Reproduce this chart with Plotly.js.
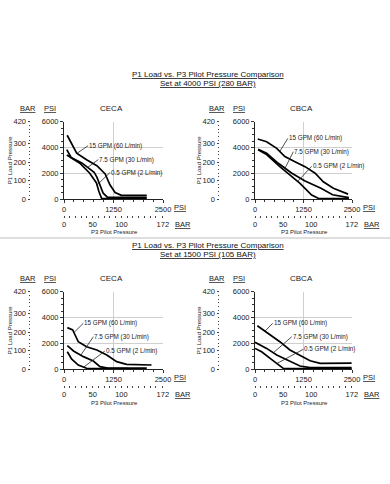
<!DOCTYPE html>
<html>
<head>
<meta charset="utf-8">
<script src="https://cdn.plot.ly/plotly-3.0.1.min.js"></script>
<style>html,body{margin:0;padding:0;background:#fff;}#chart{width:390px;height:484px;}</style>
</head>
<body>
<div id="chart"></div>
<script>
// ---------------- data (PSI) ----------------
const seriesNames = ["15 GPM (60 L/min)", "7.5 GPM (30 L/min)", "0.5 GPM (2 L/min)"];
const sectionTitles = ["P1 Load vs. P3 Pilot Pressure Comparison", "Set at 4000 PSI (280 BAR)", "Set at 1500 PSI (105 BAR)"];
const valveNames = ["CECA", "CBCA"];

// Set at 4000 PSI, CECA
const ceca4000_q15_x = [80, 320, 570, 830, 1040, 1160, 1290, 1450, 2090];
const ceca4000_q15_y = [4950, 3550, 3050, 2580, 1950, 1100, 500, 280, 280];
const ceca4000_q75_x = [70, 180, 450, 760, 830, 910, 990, 1100, 2090];
const ceca4000_q75_y = [3830, 3220, 2800, 2080, 1700, 1100, 450, 130, 120];
const ceca4000_q05_x = [70, 400, 650, 820, 880, 950, 2090];
const ceca4000_q05_y = [3420, 2780, 2000, 1250, 600, 40, 40];

// Set at 4000 PSI, CBCA
const cbca4000_q15_x = [70, 300, 560, 770, 1030, 1290, 1550, 1760, 2020, 2230, 2400];
const cbca4000_q15_y = [4660, 4450, 3930, 3290, 2900, 2510, 2000, 1340, 830, 570, 380];
const cbca4000_q75_x = [80, 300, 600, 950, 1290, 1700, 2000, 2230, 2420];
const cbca4000_q75_y = [3860, 3550, 2770, 2000, 1400, 830, 330, 180, 110];
const cbca4000_q05_x = [80, 300, 640, 1160, 1460, 1630, 2420];
const cbca4000_q05_y = [3830, 3450, 2510, 1220, 310, 60, 40];

// Set at 1500 PSI, CECA
const ceca1500_q15_x = [84, 220, 280, 360, 570, 830, 1080, 1330, 1580, 2210];
const ceca1500_q15_y = [3210, 3030, 2640, 2120, 1730, 1480, 1090, 570, 360, 310];
const ceca1500_q75_x = [84, 240, 490, 740, 910, 1100, 2090];
const ceca1500_q75_y = [1810, 1400, 960, 620, 180, 70, 70];
const ceca1500_q05_x = [84, 190, 360, 570, 700, 1620];
const ceca1500_q05_y = [1340, 780, 310, 60, 40, 40];

// Set at 1500 PSI, CBCA
const cbca1500_q15_x = [60, 340, 640, 900, 1200, 1420, 1680, 1900, 2490];
const cbca1500_q15_y = [3360, 2770, 2120, 1480, 960, 640, 440, 430, 450];
const cbca1500_q75_x = [0, 300, 560, 900, 1160, 1420, 2490];
const cbca1500_q75_y = [2070, 1600, 1090, 570, 230, 100, 100];
const cbca1500_q05_x = [0, 170, 390, 600, 730, 2490];
const cbca1500_q05_y = [1600, 1340, 830, 310, 50, 40];

// label leader tips (data coords on each curve)
const tips = {
  1: [[330, 3550], [590, 2440], [840, 1100]],
  2: [[640, 3700], [773, 2380], [1100, 1370]],
  3: [[250, 2830], [420, 1060], [500, 150]],
  4: [[258, 2940], [472, 1260], [560, 420]]
};

// tick labels
const barXTickVals = [0, 10, 20, 30, 40, 50, 60, 70, 80, 90, 100, 110, 120, 130, 140, 150, 160, 172];
const barXTickText = ["0", "", "", "", "", "50", "", "", "", "", "100", "", "", "", "", "", "", "172"];
const barYTicks = [0, 100, 200, 300, 420];

// ---------------- layout helpers ----------------
const FONT = "Liberation Sans, Arial, sans-serif";
const W = 390, H = 484;
const px = p => p / W;
const py = p => 1 - p / H;

const panels = [
  {id: 1, x0: 64, x1: 163, top: 121.7, bot: 199, series: [[ceca4000_q15_x, ceca4000_q15_y], [ceca4000_q75_x, ceca4000_q75_y], [ceca4000_q05_x, ceca4000_q05_y]], name: valveNames[0], barYPos: 30,
   labels: [[11, -7.5], [11, -8], [12.7, -12.3]]},
  {id: 2, x0: 255, x1: 352, top: 121.7, bot: 199, series: [[cbca4000_q15_x, cbca4000_q15_y], [cbca4000_q75_x, cbca4000_q75_y], [cbca4000_q05_x, cbca4000_q05_y]], name: valveNames[1], barYPos: 219,
   labels: [[8, -13], [8.3, -16.6], [14, -15]]},
  {id: 3, x0: 64, x1: 163, top: 291.7, bot: 369, series: [[ceca1500_q15_x, ceca1500_q15_y], [ceca1500_q75_x, ceca1500_q75_y], [ceca1500_q05_x, ceca1500_q05_y]], name: valveNames[0], barYPos: 30,
   labels: [[9.4, -9.2], [12.7, -18.6], [21, -16]]},
  {id: 4, x0: 255, x1: 352, top: 291.7, bot: 369, series: [[cbca1500_q15_x, cbca1500_q15_y], [cbca1500_q75_x, cbca1500_q75_y], [cbca1500_q05_x, cbca1500_q05_y]], name: valveNames[1], barYPos: 219,
   labels: [[7.7, -7.8], [18.4, -16], [26.6, -14.3]]}
];

const traces = [];
const layout = {
  width: W, height: H,
  margin: {l: 0, r: 0, t: 0, b: 0},
  paper_bgcolor: "#fff", plot_bgcolor: "#fff",
  showlegend: false,
  font: {family: FONT, size: 7.5, color: "#222"},
  annotations: [], shapes: []
};

const tickFont = {family: FONT, size: 7.5, color: "#222"};

panels.forEach(p => {
  const xs = p.id === 1 ? "" : p.id;
  const xa = "x" + xs, ya = "y" + xs;
  const barX = 4 + p.id, barY = 4 + p.id;
  p.series.forEach((s, i) => {
    traces.push({x: s[0], y: s[1], xaxis: xa, yaxis: ya, type: "scatter", mode: "lines",
      line: {color: "#000", width: 1.7}, hoverinfo: "skip", name: seriesNames[i]});
  });
  layout["xaxis" + xs] = {
    domain: [px(p.x0), px(p.x1)], anchor: ya, range: [0, 2500],
    tickmode: "linear", tick0: 0, dtick: 1250, ticks: "outside", ticklen: 3, tickcolor: "#333", tickwidth: 1,
    showline: true, linecolor: "#222", linewidth: 1, mirror: false,
    showgrid: true, gridcolor: "#cfcfcf", gridwidth: 1, zeroline: false,
    minor: {tickmode: "linear", tick0: 0, dtick: 250, ticklen: 2, tickcolor: "#333", showgrid: false},
    tickfont: tickFont, fixedrange: true
  };
  layout["yaxis" + xs] = {
    domain: [py(p.bot), py(p.top)], anchor: xa, range: [0, 6000],
    tickmode: "linear", tick0: 0, dtick: 2000, ticks: "outside", ticklen: 3, tickcolor: "#333", tickwidth: 1,
    showline: true, linecolor: "#222", linewidth: 1,
    showgrid: true, gridcolor: "#cfcfcf", gridwidth: 1, zeroline: false,
    minor: {tickmode: "linear", tick0: 0, dtick: 500, ticklen: 2, tickcolor: "#333", showgrid: false},
    tickfont: tickFont, fixedrange: true
  };
  // BAR x axis
  layout["xaxis" + barX] = {
    overlaying: xa, anchor: "free", position: py(p.bot + 15.5), side: "bottom",
    range: [0, 2500 / 14.5038], tickmode: "array", tickvals: barXTickVals, ticktext: barXTickText,
    ticks: "outside", ticklen: 2, tickcolor: "#444", tickwidth: 1,
    showline: false, showgrid: false, zeroline: false, tickfont: tickFont, fixedrange: true
  };
  // BAR y axis
  layout["yaxis" + barY] = {
    overlaying: ya, anchor: "free", position: px(p.barYPos), side: "left",
    range: [0, 420], tickmode: "array", tickvals: barYTicks,
    ticks: "outside", ticklen: 2.5, tickcolor: "#444", tickwidth: 1,
    minor: {tickmode: "linear", tick0: 0, dtick: 20, ticklen: 1.5, tickcolor: "#444", showgrid: false},
    showline: false, showgrid: false, zeroline: false, tickfont: tickFont, fixedrange: true
  };
  // empty traces so the BAR axes exist as subplots
  traces.push({x: [], y: [], xaxis: "x" + barX, yaxis: ya, type: "scatter", hoverinfo: "skip"});
  traces.push({x: [], y: [], xaxis: xa, yaxis: "y" + barY, type: "scatter", hoverinfo: "skip"});

  const cx = (p.x0 + p.x1) / 2;
  const ann = layout.annotations;
  const txt = (x, y, text, size, extra) => ann.push(Object.assign({xref: "paper", yref: "paper", x: px(x), y: py(y),
    text: text, showarrow: false, font: {family: FONT, size: size, color: "#222"}, xanchor: "center", yanchor: "middle"}, extra || {}));
  txt(cx - 2, p.top - 13.5, p.name, 8);
  txt(p.barYPos - 2, p.top - 13.5, "<u>BAR</u>", 7.5);
  txt(p.barYPos + 20, p.top - 13.5, "<u>PSI</u>", 7.5);
  txt(p.x1 + 9, p.bot + 8.7, "<u>PSI</u>", 7.5, {xanchor: "left"});
  txt(p.x1 + 10, p.bot + 25, "<u>BAR</u>", 7.5, {xanchor: "left"});
  txt(cx + 1, p.bot + 33.5, "P3 Pilot Pressure", 6);
  txt(p.barYPos - 20, (p.top + p.bot) / 2, "P1 Load Pressure", 6, {textangle: -90});
  tips[p.id].forEach((t, i) => {
    ann.push({xref: xa, yref: ya, x: t[0], y: t[1], ax: p.labels[i][0], ay: p.labels[i][1],
      axref: "pixel", ayref: "pixel", showarrow: true, arrowhead: 0, arrowwidth: 0.8, arrowcolor: "#222",
      standoff: 0, startstandoff: 0, text: seriesNames[i], xanchor: "left", yanchor: "middle",
      font: {family: FONT, size: 6.3, color: "#222"}, borderpad: 0});
  });
});

const hdr = (y, text) => layout.annotations.push({xref: "paper", yref: "paper", x: px(208), y: py(y), text: "<u>" + text + "</u>",
  showarrow: false, font: {family: FONT, size: 8, color: "#111"}, xanchor: "center", yanchor: "middle"});
hdr(75, sectionTitles[0]);
hdr(84, sectionTitles[1]);
hdr(245.5, sectionTitles[0]);
hdr(254, sectionTitles[2]);

layout.shapes.push({type: "line", xref: "paper", yref: "paper", x0: 0, x1: 1, y0: py(238), y1: py(238),
  line: {color: "#bdbdbd", width: 1}});

Plotly.newPlot("chart", traces, layout, {staticPlot: true, displayModeBar: false});
</script>
</body>
</html>
